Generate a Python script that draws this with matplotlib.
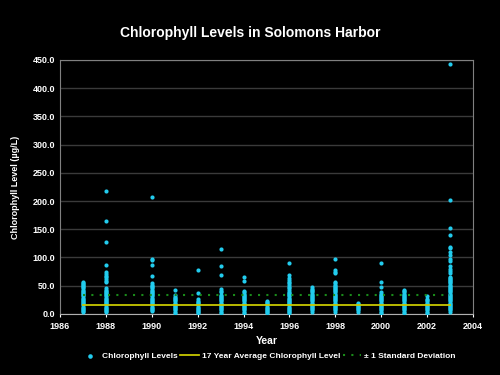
import numpy as np
import matplotlib.pyplot as plt

### Data ###
years = [1987, 1988, 1990, 1991, 1992, 1993, 1994, 1995, 1996, 1997, 1998, 1999, 2000, 2001, 2002, 2003]
levels = [
    [3, 5, 7, 9, 11, 13, 15, 17, 19, 21, 23, 25, 27, 29, 31, 33, 35, 37, 39, 41, 43, 45, 47, 49, 51, 53, 55, 57],
    [3, 5, 7, 9, 11, 13, 15, 17, 19, 21, 23, 25, 27, 29, 31, 33, 35, 37, 39, 41, 43, 45,
     56, 59, 62, 65, 68, 71, 74, 87, 128, 165, 218],
    [5, 7, 9, 11, 13, 15, 17, 19, 21, 23, 25, 27, 29, 31, 33, 35, 37, 39, 41, 43, 45, 47, 49, 51, 54,
     67, 86, 96, 98, 207],
    [2, 4, 6, 8, 10, 12, 14, 16, 18, 20, 22, 24, 26, 28, 30, 33, 43],
    [1, 3, 5, 7, 9, 11, 13, 15, 17, 19, 21, 23, 26, 37, 78],
    [2, 4, 6, 8, 10, 12, 14, 16, 18, 20, 22, 24, 26, 28, 30, 32, 34, 38, 41, 44, 69, 84, 115],
    [2, 4, 6, 8, 10, 12, 14, 16, 18, 20, 22, 24, 26, 28, 30, 32, 34, 36, 38, 41, 59, 65],
    [1, 3, 5, 7, 9, 11, 13, 15, 17, 19, 21, 23],
    [1, 3, 5, 7, 9, 11, 13, 15, 17, 19, 21, 23, 25, 27, 29, 31, 33, 35, 37, 39, 42,
     45, 48, 51, 54, 57, 60, 63, 69, 90],
    [4, 6, 8, 10, 12, 14, 16, 18, 20, 22, 24, 26, 28, 30, 32, 34, 36, 38, 40, 42, 44, 47],
    [4, 6, 8, 10, 12, 14, 16, 18, 20, 22, 24, 26, 28, 30, 32, 34, 36, 38, 40, 42, 44, 46, 48, 50, 52, 54, 56,
     72, 75, 77, 98],
    [4, 6, 8, 10, 12, 14, 16, 18, 20],
    [2, 4, 6, 8, 10, 12, 14, 16, 18, 20, 22, 24, 26, 28, 30, 32, 34, 36, 38, 48, 57, 91],
    [2, 4, 6, 8, 10, 12, 14, 16, 18, 20, 22, 24, 26, 28, 30, 32, 34, 36, 38, 40, 42],
    [2, 4, 6, 8, 10, 12, 14, 16, 18, 20, 22, 24, 26, 31],
    [4, 6, 8, 10, 12, 14, 16, 18, 20, 22, 24, 26, 28, 30, 32, 34, 36, 38, 40, 42, 44, 46, 48, 50, 52, 54,
     56, 58, 60, 62, 64, 66, 73, 76, 79, 85, 94, 97, 104, 110, 116, 118, 139, 152, 202, 443],
]
average = 16.5
std_upper = 34.0
line_years = [1987, 2003]

### Plot ###
plt.rcParams['font.family'] = ['Liberation Sans', 'DejaVu Sans']
plt.rcParams['font.weight'] = 'bold'

fig = plt.figure(figsize=(5, 3.75), dpi=100, facecolor='black')
ax = fig.add_axes([0.12, 0.163, 0.826, 0.677], facecolor='black')

xs = np.concatenate([[yr] * len(v) for yr, v in zip(years, levels)])
ys = np.concatenate(levels)
ax.scatter(xs, ys, s=9, color='#22ccee', linewidths=0, zorder=3, label='Chlorophyll Levels')
ax.plot(line_years, [average, average], color='#c8c800', linewidth=1.3, zorder=4,
        label='17 Year Average Chlorophyll Level')
ax.plot(line_years, [std_upper, std_upper], color='#1a8a1a', linewidth=1.5, linestyle=(0, (1, 3)),
        zorder=4, label='± 1 Standard Deviation')

ax.set_xlim(1986, 2004)
ax.set_ylim(0, 450)
ax.set_xticks(range(1986, 2005, 2))
ax.set_yticks(range(0, 451, 50))
ax.set_yticklabels([f'{v:.1f}' for v in range(0, 451, 50)])
ax.yaxis.grid(True, color='#3a3a3a', linewidth=1)
ax.set_axisbelow(True)
for side in ['top', 'right', 'left']:
    ax.spines[side].set_color('#808080')
ax.spines['bottom'].set_color('#b0b0b0')
ax.tick_params(colors='white', labelsize=6.5, length=2)
ax.tick_params(axis='y', length=0)
for lab in ax.get_xticklabels() + ax.get_yticklabels():
    lab.set_fontweight('bold')

ax.set_xlabel('Year', color='white', fontsize=7.5, fontweight='bold', labelpad=4)
ax.set_ylabel('Chlorophyll Level (µg/L)', color='white', fontsize=6.5, fontweight='bold', labelpad=9)
fig.text(0.5, 0.913, 'Chlorophyll Levels in Solomons Harbor', color='white', fontsize=10,
         fontweight='bold', ha='center', va='center')

leg = fig.legend(loc='center', bbox_to_anchor=(0.536, 0.05), ncol=3, frameon=False, fontsize=6,
                 handlelength=2.2, columnspacing=0.35, handletextpad=0.35, markerscale=1.1)
for t in leg.get_texts():
    t.set_color('white')

fig.savefig('out.png', dpi=100, facecolor='black')
